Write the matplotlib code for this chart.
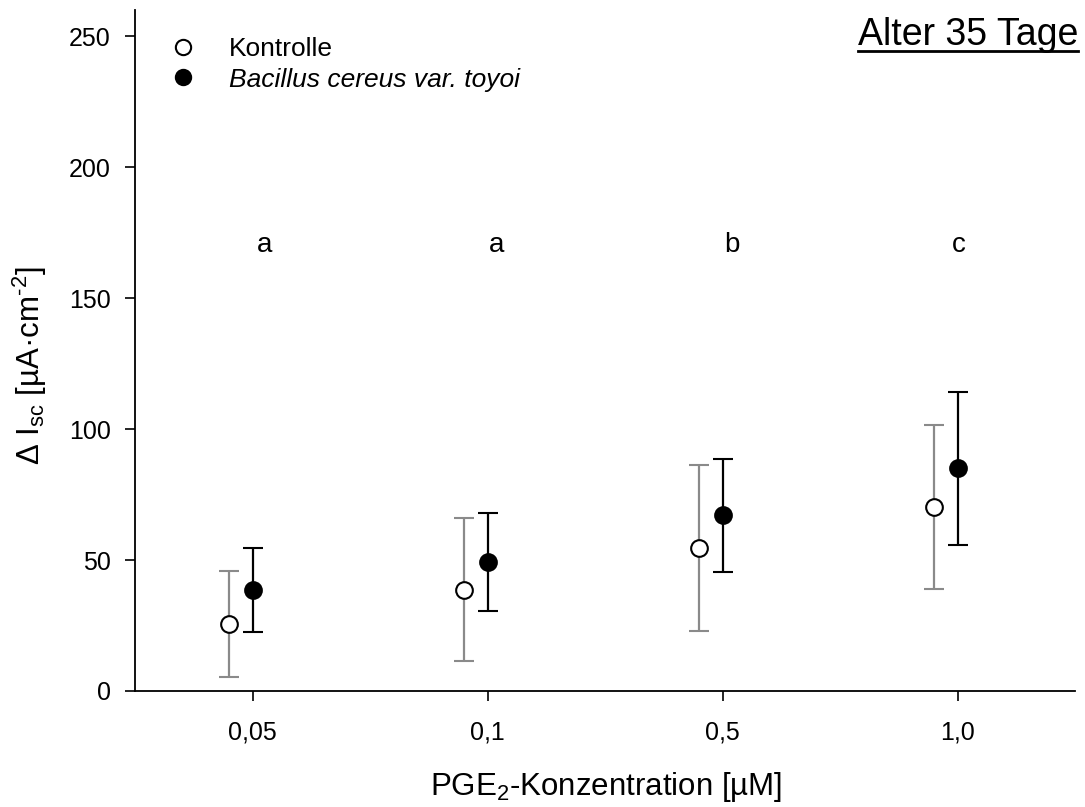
import matplotlib
matplotlib.use("Agg")
import matplotlib.pyplot as plt
from matplotlib.lines import Line2D

plt.rcParams['font.family'] = ['Liberation Sans', 'DejaVu Sans']
plt.rcParams['mathtext.fontset'] = 'custom'
plt.rcParams['mathtext.rm'] = 'Liberation Sans'
plt.rcParams['mathtext.it'] = 'Liberation Sans:italic'
plt.rcParams['mathtext.default'] = 'rm'

# ---- data ----
categories = ['0,05', '0,1', '0,5', '1,0']
kontrolle_mean = [25.6, 38.7, 54.6, 70.2]
kontrolle_err = [20.4, 27.3, 31.7, 31.3]
bacillus_mean = [38.7, 49.1, 67.1, 85.0]
bacillus_err = [16.0, 18.7, 21.6, 29.2]
sig_letters = ['a', 'a', 'b', 'c']
sig_letter_x = [0.05, 0.04, 0.04, 0.005]   # offset from category position
sig_letter_y = 167.7
yticks = [0, 50, 100, 150, 200, 250]

W, H = 1085, 807
fig = plt.figure(figsize=(W / 100, H / 100), dpi=100)
ax = fig.add_axes([135 / W, 1 - 691 / H, 940 / W, 681 / H])

xpos = list(range(len(categories)))
offset = -0.1
gray = '#8a8a8a'

ax.errorbar([x + offset for x in xpos], kontrolle_mean, yerr=kontrolle_err,
            fmt='o', color=gray, ecolor=gray, elinewidth=1.6, capsize=7.4, capthick=1.6,
            markerfacecolor='white', markeredgecolor='black', markersize=12,
            markeredgewidth=1.5, zorder=3)
ax.errorbar(xpos, bacillus_mean, yerr=bacillus_err,
            fmt='o', color='black', ecolor='black', elinewidth=1.6, capsize=7.4, capthick=1.6,
            markerfacecolor='black', markeredgecolor='black', markersize=12,
            markeredgewidth=1.5, zorder=3)

for x, dx, letter in zip(xpos, sig_letter_x, sig_letters):
    ax.text(x + dx, sig_letter_y, letter, ha='center', va='baseline', fontsize=20)

ax.set_xlim(-0.5, 3.5)
ax.set_ylim(0, 260)
ax.set_xticks(xpos)
ax.set_xticklabels(categories, fontsize=18)
ax.set_yticks(yticks)
ax.set_yticklabels([str(v) for v in yticks], fontsize=18)
ax.tick_params(axis='both', direction='out', length=7.5, width=1.2, color='black')
ax.tick_params(axis='x', pad=14)
ax.tick_params(axis='y', pad=10)
for s in ['top', 'right']:
    ax.spines[s].set_visible(False)
for s in ['left', 'bottom']:
    ax.spines[s].set_linewidth(1.3)

# legend
h1 = Line2D([], [], marker='o', linestyle='none', markerfacecolor='white',
            markeredgecolor='black', markersize=11, markeredgewidth=1.5)
h2 = Line2D([], [], marker='o', linestyle='none', markerfacecolor='black',
            markeredgecolor='black', markersize=11, markeredgewidth=1.5)
leg = ax.legend([h1, h2], ['Kontrolle', 'Bacillus cereus var. toyoi'],
                loc='upper left', bbox_to_anchor=(163 / W, 1 - 37 / H),
                bbox_transform=fig.transFigure, frameon=False, fontsize=19,
                handlelength=1.55, handletextpad=0.95, labelspacing=0.25,
                borderpad=0, borderaxespad=0)
leg.get_texts()[1].set_style('italic')

# axis labels
fig.text(606 / W, 1 - 795 / H, 'PGE$_2$-Konzentration [µM]', ha='center', va='baseline',
         fontsize=22.5)
fig.text(30 / W, 1 - 366 / H, r'$\Delta$ I$_{\mathrm{sc}}$ [µA·cm$^{\text{-2}}$]', ha='center',
         va='center', rotation=90, fontsize=22.5)

# title with underline
t = fig.text(1078 / W, 1 - 45 / H, 'Alter 35 Tage', ha='right', va='baseline', fontsize=27)
fig.canvas.draw()
bb = t.get_window_extent()
uy = 1 - 51 / H
fig.add_artist(Line2D([bb.x0 / W, bb.x1 / W], [uy, uy], transform=fig.transFigure,
                      color='black', linewidth=2.0))

fig.savefig('out.png', dpi=100)
